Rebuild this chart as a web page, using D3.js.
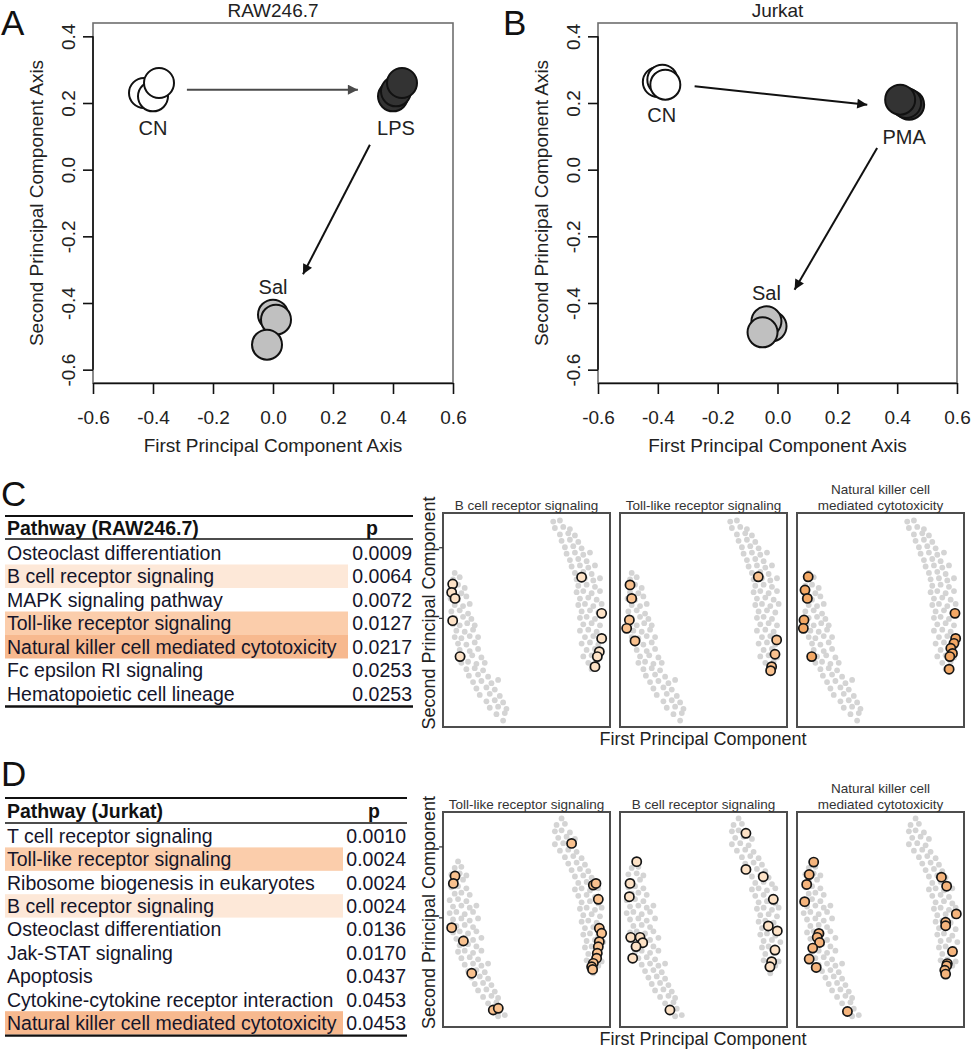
<!DOCTYPE html>
<html><head><meta charset="utf-8">
<script src="https://cdn.jsdelivr.net/npm/d3@7"></script>
<style>
body{margin:0;background:#fff;}
svg{display:block;}
</style></head><body>
<svg id="fig" width="972" height="1050"></svg>
<script>
// ---------------- DATA ----------------
const pcTicksX = [-0.6,-0.4,-0.2,0.0,0.2,0.4,0.6];
const pcTicksY = [-0.6,-0.4,-0.2,0.0,0.2,0.4];

// Panel A: RAW246.7
const rawGroup = ["CN","CN","CN","LPS","LPS","LPS","Sal","Sal","Sal"];
const rawPC1   = [-0.43,-0.40,-0.38, 0.40,0.41,0.43, 0.00,0.01,-0.02];
const rawPC2   = [0.23,0.22,0.26, 0.22,0.235,0.26, -0.435,-0.45,-0.525];
const rawLabels = ["CN","LPS","Sal"];
const rawLabelPC1 = [-0.40,0.41,0.0];
const rawLabelPC2 = [0.125,0.125,-0.35];
const rawArrows = [[-0.287,0.24,0.283,0.24],[0.323,0.075,0.10,-0.314]];

// Panel B: Jurkat
const jurGroup = ["CN","CN","CN","PMA","PMA","PMA","Sal","Sal","Sal"];
const jurPC1   = [-0.40,-0.385,-0.375, 0.44,0.43,0.41, -0.02,-0.037,-0.05];
const jurPC2   = [0.263,0.27,0.255, 0.195,0.20,0.21, -0.47,-0.455,-0.488];
const jurLabels = ["CN","PMA","Sal"];
const jurLabelPC1 = [-0.387,0.423,-0.037];
const jurLabelPC2 = [0.165,0.10,-0.37];
const jurArrows = [[-0.277,0.25,0.30,0.195],[0.333,0.065,0.057,-0.36]];

// Tables
const tableCPathways = ["Osteoclast differentiation","B cell receptor signaling","MAPK signaling pathway","Toll-like receptor signaling","Natural killer cell mediated cytotoxicity","Fc epsilon RI signaling","Hematopoietic cell lineage"];
const tableCP = ["0.0009","0.0064","0.0072","0.0127","0.0217","0.0253","0.0253"];
const tableCHighlight = [0,1,0,2,3,0,0];
const tableDPathways = ["T cell receptor signaling","Toll-like receptor signaling","Ribosome biogenesis in eukaryotes","B cell receptor signaling","Osteoclast differentiation","Jak-STAT signaling","Apoptosis","Cytokine-cytokine receptor interaction","Natural killer cell mediated cytotoxicity"];
const tableDP = ["0.0010","0.0024","0.0024","0.0024","0.0136","0.0170","0.0437","0.0453","0.0453"];
const tableDHighlight = [0,2,0,1,0,0,0,0,3];

// Mini panels: gene clouds (relative PC1, PC2)
const grayC = [
[0.07,0.72],[0.06,0.69],[0.10,0.70],[0.05,0.66],[0.09,0.665],[0.13,0.65],[0.06,0.63],[0.11,0.625],
[0.045,0.60],[0.09,0.595],[0.14,0.61],[0.07,0.57],[0.12,0.565],[0.16,0.575],[0.05,0.54],[0.10,0.545],[0.15,0.53],
[0.07,0.51],[0.12,0.515],[0.17,0.505],[0.06,0.48],[0.10,0.475],[0.145,0.485],[0.19,0.475],[0.08,0.45],[0.13,0.445],[0.18,0.455],
[0.07,0.42],[0.11,0.415],[0.16,0.425],[0.21,0.42],[0.09,0.39],[0.14,0.385],[0.19,0.395],[0.10,0.36],[0.16,0.355],[0.21,0.365],
[0.12,0.33],[0.175,0.335],[0.23,0.325],[0.11,0.30],[0.15,0.305],[0.20,0.295],[0.25,0.30],[0.14,0.27],[0.19,0.275],[0.24,0.265],
[0.155,0.24],[0.21,0.245],[0.27,0.235],[0.18,0.21],[0.23,0.215],[0.29,0.205],[0.33,0.22],[0.20,0.18],[0.26,0.185],[0.31,0.175],
[0.22,0.15],[0.28,0.155],[0.34,0.145],[0.26,0.12],[0.31,0.125],[0.36,0.115],[0.28,0.09],[0.33,0.095],[0.38,0.085],
[0.32,0.06],[0.37,0.065],[0.36,0.03],
[0.66,0.96],[0.70,0.965],[0.67,0.93],[0.72,0.935],[0.76,0.925],[0.70,0.90],[0.75,0.905],[0.79,0.895],
[0.71,0.87],[0.76,0.875],[0.81,0.865],[0.73,0.84],[0.78,0.845],[0.83,0.835],[0.74,0.81],[0.79,0.815],[0.84,0.805],[0.88,0.815],
[0.76,0.78],[0.81,0.785],[0.86,0.775],[0.77,0.75],[0.82,0.755],[0.87,0.745],[0.91,0.755],[0.79,0.72],[0.84,0.725],[0.89,0.715],
[0.80,0.69],[0.85,0.695],[0.90,0.685],[0.94,0.695],[0.81,0.66],[0.86,0.665],[0.91,0.655],[0.80,0.63],[0.84,0.635],[0.89,0.625],[0.94,0.635],
[0.82,0.60],[0.87,0.605],[0.92,0.595],[0.81,0.57],[0.85,0.575],[0.90,0.565],[0.95,0.575],[0.83,0.54],[0.88,0.545],[0.93,0.535],
[0.82,0.51],[0.86,0.515],[0.91,0.505],[0.84,0.48],[0.89,0.485],[0.94,0.475],[0.82,0.45],[0.87,0.455],[0.92,0.445],
[0.85,0.42],[0.90,0.425],[0.95,0.415],[0.83,0.39],[0.88,0.395],[0.93,0.385],[0.86,0.36],[0.91,0.365],
[0.84,0.33],[0.89,0.335],[0.94,0.325],[0.87,0.30],[0.92,0.305],[0.89,0.27]
];
const grayD = [
[0.09,0.77],[0.07,0.74],[0.11,0.745],[0.05,0.71],[0.10,0.715],[0.14,0.705],[0.07,0.68],[0.12,0.685],
[0.05,0.65],[0.09,0.655],[0.14,0.645],[0.07,0.62],[0.11,0.625],[0.16,0.615],[0.04,0.59],[0.09,0.595],[0.14,0.585],
[0.06,0.56],[0.11,0.565],[0.16,0.555],[0.20,0.565],[0.04,0.53],[0.08,0.535],[0.13,0.525],[0.18,0.535],
[0.06,0.50],[0.11,0.505],[0.16,0.495],[0.21,0.505],[0.08,0.47],[0.13,0.475],[0.18,0.465],
[0.06,0.44],[0.10,0.445],[0.15,0.435],[0.20,0.445],[0.08,0.41],[0.13,0.415],[0.18,0.405],[0.23,0.415],
[0.10,0.38],[0.15,0.385],[0.20,0.375],[0.09,0.35],[0.13,0.355],[0.18,0.345],[0.23,0.355],[0.11,0.32],[0.16,0.325],[0.21,0.315],
[0.13,0.29],[0.18,0.295],[0.23,0.285],[0.27,0.295],[0.15,0.26],[0.20,0.265],[0.25,0.255],[0.17,0.23],[0.22,0.235],[0.27,0.225],
[0.19,0.20],[0.24,0.205],[0.29,0.195],[0.21,0.17],[0.26,0.175],[0.31,0.165],[0.24,0.14],[0.29,0.145],[0.33,0.135],
[0.27,0.11],[0.32,0.115],[0.29,0.08],[0.34,0.085],[0.33,0.05],[0.37,0.055],
[0.71,0.97],[0.68,0.94],[0.73,0.945],[0.67,0.91],[0.71,0.915],[0.76,0.905],[0.69,0.88],[0.74,0.885],[0.79,0.875],
[0.67,0.85],[0.72,0.855],[0.77,0.845],[0.70,0.82],[0.75,0.825],[0.80,0.815],[0.73,0.79],[0.78,0.795],[0.83,0.785],
[0.75,0.76],[0.80,0.765],[0.85,0.755],[0.77,0.73],[0.82,0.735],[0.87,0.725],[0.79,0.70],[0.84,0.705],[0.89,0.695],
[0.81,0.67],[0.86,0.675],[0.91,0.665],[0.79,0.64],[0.83,0.645],[0.88,0.635],[0.93,0.645],[0.81,0.61],[0.86,0.615],[0.91,0.605],
[0.83,0.58],[0.88,0.585],[0.93,0.575],[0.82,0.55],[0.86,0.555],[0.91,0.545],[0.95,0.555],[0.84,0.52],[0.89,0.525],[0.94,0.515],
[0.83,0.49],[0.87,0.495],[0.92,0.485],[0.85,0.46],[0.90,0.465],[0.95,0.455],[0.84,0.43],[0.88,0.435],[0.93,0.425],
[0.86,0.40],[0.91,0.405],[0.96,0.395],[0.85,0.37],[0.89,0.375],[0.94,0.365],[0.87,0.34],[0.92,0.345],
[0.86,0.31],[0.90,0.315],[0.95,0.305],[0.88,0.28],[0.93,0.285],[0.90,0.25]
];
const hitsC_Bcell = [[0.058,0.668],[0.052,0.629],[0.072,0.601],[0.058,0.497],[0.102,0.329],[0.830,0.700],[0.950,0.531],[0.950,0.414],[0.936,0.352],[0.924,0.329],[0.910,0.282]];
const hitsC_Toll  = [[0.060,0.664],[0.070,0.601],[0.056,0.500],[0.040,0.461],[0.090,0.402],[0.828,0.702],[0.938,0.407],[0.928,0.340],[0.908,0.282],[0.902,0.263]];
const hitsC_NK    = [[0.067,0.702],[0.048,0.640],[0.062,0.601],[0.042,0.500],[0.038,0.461],[0.088,0.329],[0.946,0.531],[0.950,0.414],[0.940,0.391],[0.921,0.368],[0.931,0.344],[0.915,0.329],[0.911,0.270]];
const hitsD_Toll  = [[0.072,0.702],[0.062,0.668],[0.052,0.462],[0.122,0.400],[0.172,0.250],[0.301,0.079],[0.331,0.087],[0.770,0.854],[0.900,0.660],[0.916,0.668],[0.930,0.594],[0.936,0.459],[0.950,0.436],[0.936,0.397],[0.930,0.373],[0.924,0.343],[0.920,0.320],[0.900,0.296],[0.890,0.280],[0.896,0.268]];
const hitsD_Bcell = [[0.100,0.769],[0.060,0.668],[0.056,0.606],[0.064,0.417],[0.120,0.417],[0.136,0.392],[0.096,0.374],[0.076,0.320],[0.299,0.079],[0.754,0.901],[0.754,0.733],[0.858,0.699],[0.918,0.594],[0.888,0.470],[0.942,0.447],[0.928,0.358],[0.908,0.304],[0.898,0.280]];
const hitsD_NK    = [[0.100,0.767],[0.073,0.709],[0.058,0.663],[0.046,0.583],[0.131,0.435],[0.121,0.417],[0.135,0.393],[0.094,0.367],[0.073,0.316],[0.115,0.277],[0.302,0.072],[0.865,0.697],[0.896,0.655],[0.954,0.526],[0.890,0.487],[0.890,0.471],[0.931,0.351],[0.900,0.295],[0.896,0.285],[0.885,0.264],[0.890,0.246]];
const miniTicks = [0.51,0.84];

// ---------------- DRAWING ----------------
const FONT = '"Liberation Sans", Arial, Helvetica, sans-serif';
const svg = d3.select("#fig").attr("font-family", FONT);
const defs = svg.append("defs");
[["ahGray","#4a4a4a"],["ahBlack","#111"]].forEach(([id,c])=>{
  defs.append("marker").attr("id",id).attr("viewBox","0 0 10 10").attr("refX",10).attr("refY",5)
    .attr("markerWidth",14).attr("markerHeight",10).attr("markerUnits","userSpaceOnUse").attr("orient","auto")
    .append("path").attr("d","M0,0L10,5L0,10z").attr("fill",c);
});
const groupFill = {CN:"#ffffff", LPS:"#333333", PMA:"#333333", Sal:"#c0c0c0"};

function pcaPanel(cfg){
  const g = svg.append("g");
  const top=23, bottom=383;
  const x = d3.scaleLinear().domain([-0.6,0.6]).range([cfg.left,cfg.right]);
  const y = d3.scaleLinear().domain([-0.64,0.44]).range([bottom,top]);
  g.append("rect").attr("x",cfg.left).attr("y",top).attr("width",cfg.right-cfg.left).attr("height",bottom-top)
    .attr("fill","none").attr("stroke","#6e6e6e").attr("stroke-width",1.6);
  const xa = g.append("g").attr("transform",`translate(0,${bottom})`)
    .call(d3.axisBottom(x).tickValues(pcTicksX).tickSize(11).tickSizeOuter(0).tickPadding(17).tickFormat(d=>d.toFixed(1)));
  xa.attr("font-family",FONT).attr("font-size",19);
  xa.select(".domain").attr("stroke","#111").attr("stroke-width",1.6);
  xa.selectAll(".tick line").attr("stroke","#111").attr("stroke-width",1.6);
  xa.selectAll(".tick text").attr("fill","#222");
  const ya = g.append("g").attr("transform",`translate(${cfg.left},0)`)
    .call(d3.axisLeft(y).tickValues(pcTicksY).tickSize(10).tickSizeOuter(0).tickFormat(d=>d.toFixed(1)));
  ya.attr("font-family",FONT).attr("font-size",19);
  ya.select(".domain").remove();
  ya.append("line").attr("x1",0).attr("x2",0).attr("y1",y(0.4)).attr("y2",y(-0.6)).attr("stroke","#111").attr("stroke-width",1.6);
  ya.selectAll(".tick line").attr("stroke","#111").attr("stroke-width",1.6);
  ya.selectAll(".tick text").attr("transform","rotate(-90)").attr("x",0).attr("y",-18).attr("dy",0)
    .attr("text-anchor","middle").attr("fill","#222");
  const cx=(cfg.left+cfg.right)/2;
  g.append("text").attr("x",cx).attr("y",17).attr("text-anchor","middle").attr("font-size",19).attr("fill","#222").text(cfg.title);
  g.append("text").attr("x",cx).attr("y",452).attr("text-anchor","middle").attr("font-size",19).attr("fill","#222").text("First Principal Component Axis");
  g.append("text").attr("transform",`translate(${cfg.left-50},${(top+bottom)/2}) rotate(-90)`).attr("text-anchor","middle")
    .attr("font-size",19).attr("fill","#222").text("Second Principal Component Axis");
  g.append("text").attr("x",cfg.letterX).attr("y",35).attr("font-size",35).attr("fill","#111").text(cfg.letter);
  cfg.arrows.forEach((a,i)=>{
    const col = (cfg.grayFirst && i===0) ? "#4a4a4a" : "#111";
    g.append("line").attr("x1",x(a[0])).attr("y1",y(a[1])).attr("x2",x(a[2])).attr("y2",y(a[3]))
      .attr("stroke",col).attr("stroke-width",2).attr("marker-end",`url(#${col==="#111"?"ahBlack":"ahGray"})`);
  });
  const pts = cfg.group.map((gname,i)=>({g:gname,x:cfg.pc1[i],y:cfg.pc2[i]}));
  g.selectAll("circle.pt").data(pts).join("circle").attr("class","pt")
    .attr("cx",d=>x(d.x)).attr("cy",d=>y(d.y)).attr("r",15)
    .attr("fill",d=>groupFill[d.g]).attr("stroke","#111").attr("stroke-width",2);
  cfg.labels.forEach((t,i)=>{
    g.append("text").attr("x",x(cfg.lx[i])).attr("y",y(cfg.ly[i])).attr("dy","0.36em").attr("text-anchor","middle")
      .attr("font-size",20).attr("fill","#222").text(t);
  });
}

pcaPanel({left:93,right:453,title:"RAW246.7",letter:"A",letterX:1,group:rawGroup,pc1:rawPC1,pc2:rawPC2,
  labels:rawLabels,lx:rawLabelPC1,ly:rawLabelPC2,arrows:rawArrows,grayFirst:true});
pcaPanel({left:598,right:957,title:"Jurkat",letter:"B",letterX:503,group:jurGroup,pc1:jurPC1,pc2:jurPC2,
  labels:jurLabels,lx:jurLabelPC1,ly:jurLabelPC2,arrows:jurArrows,grayFirst:false});

// Tables
const hlColor = ["none","#fde8d8","#fbcdab","#f7b98f"];
function drawTable(cfg){
  const g = svg.append("g");
  g.append("text").attr("x",1).attr("y",cfg.letterY).attr("font-size",35).attr("fill","#111").text(cfg.letter);
  const rows = cfg.names.map((n,i)=>({n, p:cfg.p[i], h:cfg.hl[i], i}));
  const yRow = d3.scaleLinear().domain([0,rows.length]).range([cfg.rowTop, cfg.rowTop+cfg.rowH*rows.length]);
  g.selectAll("rect.hl").data(rows.filter(r=>r.h>0)).join("rect").attr("class","hl")
    .attr("x",cfg.left).attr("y",d=>yRow(d.i)).attr("width",cfg.hlRight-cfg.left).attr("height",cfg.rowH)
    .attr("fill",d=>hlColor[d.h]);
  g.append("line").attr("x1",cfg.left).attr("x2",cfg.right).attr("y1",cfg.topLine).attr("y2",cfg.topLine).attr("stroke","#111").attr("stroke-width",2.2);
  g.append("line").attr("x1",cfg.left).attr("x2",cfg.right).attr("y1",cfg.headLine).attr("y2",cfg.headLine).attr("stroke","#111").attr("stroke-width",1.6);
  const botY = yRow(rows.length)+1;
  g.append("line").attr("x1",cfg.left).attr("x2",cfg.right).attr("y1",botY).attr("y2",botY).attr("stroke","#111").attr("stroke-width",2.4);
  g.append("text").attr("x",cfg.left+2).attr("y",cfg.headBase).attr("font-size",19.5).attr("font-weight","bold").attr("fill","#111").text(cfg.header);
  g.append("text").attr("x",cfg.pHeadX).attr("y",cfg.headBase).attr("text-anchor","middle").attr("font-size",19.5).attr("font-weight","bold").attr("fill","#111").text("p");
  g.selectAll("text.nm").data(rows).join("text").attr("class","nm")
    .attr("x",cfg.left+2).attr("y",d=>yRow(d.i)+cfg.rowH/2+7).attr("font-size",19.5).attr("fill","#15152a").text(d=>d.n);
  g.selectAll("text.pv").data(rows).join("text").attr("class","pv")
    .attr("x",cfg.pRight).attr("y",d=>yRow(d.i)+cfg.rowH/2+7).attr("text-anchor","end").attr("font-size",19.5).attr("fill","#15152a").text(d=>d.p);
}
drawTable({letter:"C",letterY:506,names:tableCPathways,p:tableCP,hl:tableCHighlight,left:5,right:413,hlRight:348,
  pRight:412,pHeadX:372,topLine:516,headLine:539,headBase:535,header:"Pathway (RAW246.7)",rowTop:541,rowH:23.5});
drawTable({letter:"D",letterY:786,names:tableDPathways,p:tableDP,hl:tableDHighlight,left:5,right:407,hlRight:343,
  pRight:406,pHeadX:374,topLine:798,headLine:823,headBase:818,header:"Pathway (Jurkat)",rowTop:824,rowH:23.4});

// Mini panels
const miniX = [[443,610],[620,787],[797,964]];
function miniRow(cfg){
  const g = svg.append("g");
  cfg.panels.forEach((p,k)=>{
    const [x0,x1] = miniX[k];
    const x = d3.scaleLinear().domain([0,1]).range([x0,x1]);
    const y = d3.scaleLinear().domain([0,1]).range([cfg.bottom,cfg.top]);
    const pg = g.append("g");
    pg.selectAll("circle.bg").data(cfg.gray).join("circle").attr("class","bg")
      .attr("cx",d=>x(d[0])).attr("cy",d=>y(d[1])).attr("r",2.9).attr("fill","#d4d4d4");
    pg.selectAll("circle.hit").data(p.hits).join("circle").attr("class","hit")
      .attr("cx",d=>x(d[0])).attr("cy",d=>y(d[1])).attr("r",4.6).attr("fill",p.fill)
      .attr("stroke","#151515").attr("stroke-width",1.7);
    pg.append("rect").attr("x",x0).attr("y",cfg.top).attr("width",x1-x0).attr("height",cfg.bottom-cfg.top)
      .attr("fill","none").attr("stroke","#4d4d4d").attr("stroke-width",2);
    if(k===0){
      const ax = pg.append("g").attr("transform",`translate(${x0},0)`)
        .call(d3.axisLeft(y).tickValues(miniTicks).tickSize(4).tickFormat(""));
      ax.select(".domain").remove();
      ax.selectAll(".tick line").attr("stroke","#333").attr("stroke-width",1.2);
    }
    const cx=(x0+x1)/2;
    p.title.forEach((t,j)=>{
      pg.append("text").attr("x",cx).attr("y",cfg.titleBase-(p.title.length-1-j)*16).attr("text-anchor","middle")
        .attr("font-size",13.5).attr("fill","#333").text(t);
    });
  });
  g.append("text").attr("x",703).attr("y",cfg.xlabBase).attr("text-anchor","middle").attr("font-size",18).attr("fill","#222").text("First Principal Component");
  g.append("text").attr("transform",`translate(435,${(cfg.top+cfg.bottom)/2-7}) rotate(-90)`).attr("text-anchor","middle")
    .attr("font-size",18).attr("fill","#222").text("Second Principal Component");
}
miniRow({top:513,bottom:727,titleBase:510,xlabBase:745,gray:grayC,panels:[
  {title:["B cell receptor signaling"],hits:hitsC_Bcell,fill:"#fde2c6"},
  {title:["Toll-like receptor signaling"],hits:hitsC_Toll,fill:"#f9c18e"},
  {title:["Natural killer cell","mediated cytotoxicity"],hits:hitsC_NK,fill:"#f3a865"}]});
miniRow({top:812,bottom:1027,titleBase:809,xlabBase:1045,gray:grayD,panels:[
  {title:["Toll-like receptor signaling"],hits:hitsD_Toll,fill:"#f9c18e"},
  {title:["B cell receptor signaling"],hits:hitsD_Bcell,fill:"#fde2c6"},
  {title:["Natural killer cell","mediated cytotoxicity"],hits:hitsD_NK,fill:"#f5b47c"}]});
</script>
</body></html>
